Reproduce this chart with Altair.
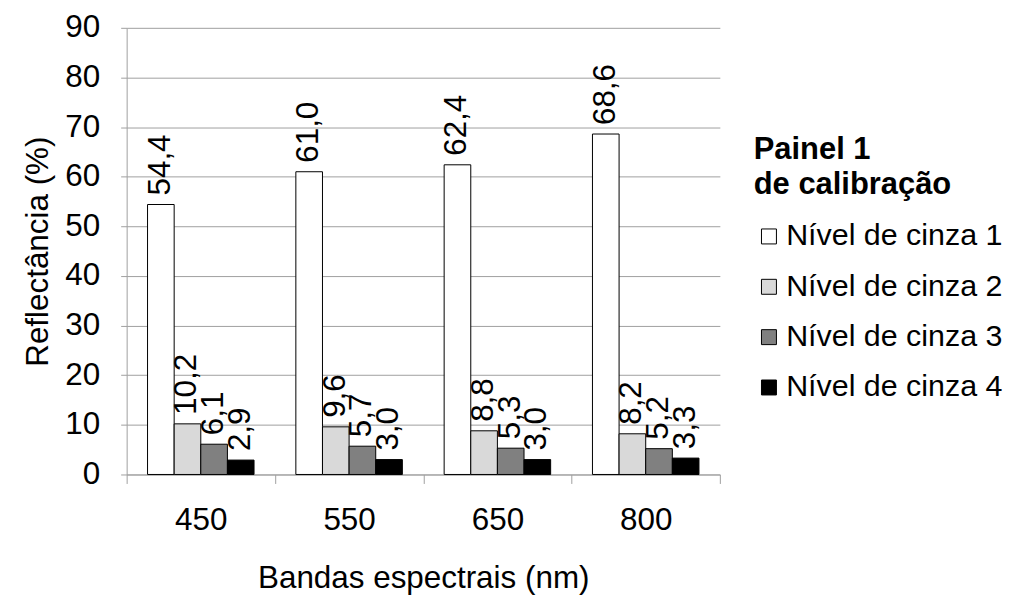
import altair as alt
import pandas as pd

bands = ["450", "550", "650", "800"]
series = ["Nível de cinza 1", "Nível de cinza 2", "Nível de cinza 3", "Nível de cinza 4"]
nivel1 = [54.4, 61.0, 62.4, 68.6]
nivel2 = [10.2, 9.6, 8.8, 8.2]
nivel3 = [6.1, 5.7, 5.3, 5.2]
nivel4 = [2.9, 3.0, 3.0, 3.3]
colors = ["#ffffff", "#d9d9d9", "#808080", "#000000"]
y_ticks = [0, 10, 20, 30, 40, 50, 60, 70, 80, 90]

rows = []
for s, vals in zip(series, [nivel1, nivel2, nivel3, nivel4]):
    for b, v in zip(bands, vals):
        rows.append({"banda": b, "serie": s, "valor": v,
                     "rotulo": f"{v:.1f}".replace(".", ",")})
df = pd.DataFrame(rows)

FONT = "Liberation Sans"
GRAY = "#a0a0a0"
FS = 31.5

x = alt.X("banda:N", sort=bands, title="Bandas espectrais (nm)",
          scale=alt.Scale(paddingInner=0, paddingOuter=0),
          axis=alt.Axis(labelAngle=0, tickBand="extent", tickSize=9,
                        labelPadding=21, titlePadding=27, grid=False,
                        domainColor=GRAY, tickColor=GRAY))
xo = alt.XOffset("serie:N", sort=series,
                 scale=alt.Scale(paddingInner=0, paddingOuter=0.785))
y = alt.Y("valor:Q", title="Reflectância (%)",
          scale=alt.Scale(domain=[0, 90], nice=False),
          axis=alt.Axis(values=y_ticks, tickSize=6, labelPadding=21,
                        titlePadding=10, grid=True, gridColor=GRAY,
                        domainColor=GRAY, tickColor=GRAY))

bars = alt.Chart(df).mark_bar(stroke="black", strokeWidth=1).encode(
    x=x, xOffset=xo, y=y,
    fill=alt.Fill("serie:N", sort=series,
                  scale=alt.Scale(domain=series, range=colors),
                  legend=alt.Legend(title=["Painel 1", "de calibração"],
                                    orient="none", legendX=629, legendY=108,
                                    symbolType="square", symbolSize=225,
                                    symbolStrokeColor="black", symbolStrokeWidth=1,
                                    labelFontSize=30.5, labelFont=FONT,
                                    labelColor="black", labelLimit=0,
                                    labelOffset=2, rowPadding=19.5,
                                    titleFontSize=31, titleFont=FONT,
                                    titleColor="black", titleLimit=0,
                                    titleFontWeight="bold", titleLineHeight=35,
                                    titlePadding=20, padding=0)),
)

labels = alt.Chart(df).mark_text(angle=270, align="left", baseline="middle",
                                 dx=9, fontSize=FS, font=FONT, color="black").encode(
    x=x, xOffset=xo, y=y, text="rotulo:N"
)

chart = alt.layer(bars, labels).properties(
    width=595, height=448,
    padding={"left": 119, "top": 19, "right": 285, "bottom": 120},
    autosize=alt.AutoSizeParams(type="none"),
).configure_view(stroke=None).configure_axis(
    labelFont=FONT, titleFont=FONT, labelFontSize=FS, titleFontSize=FS,
    labelColor="black", titleColor="black", titleFontWeight="normal",
    domainWidth=1, tickWidth=1, gridWidth=1,
)

chart.save("out.html", embed_options={"renderer": "svg", "actions": False})
